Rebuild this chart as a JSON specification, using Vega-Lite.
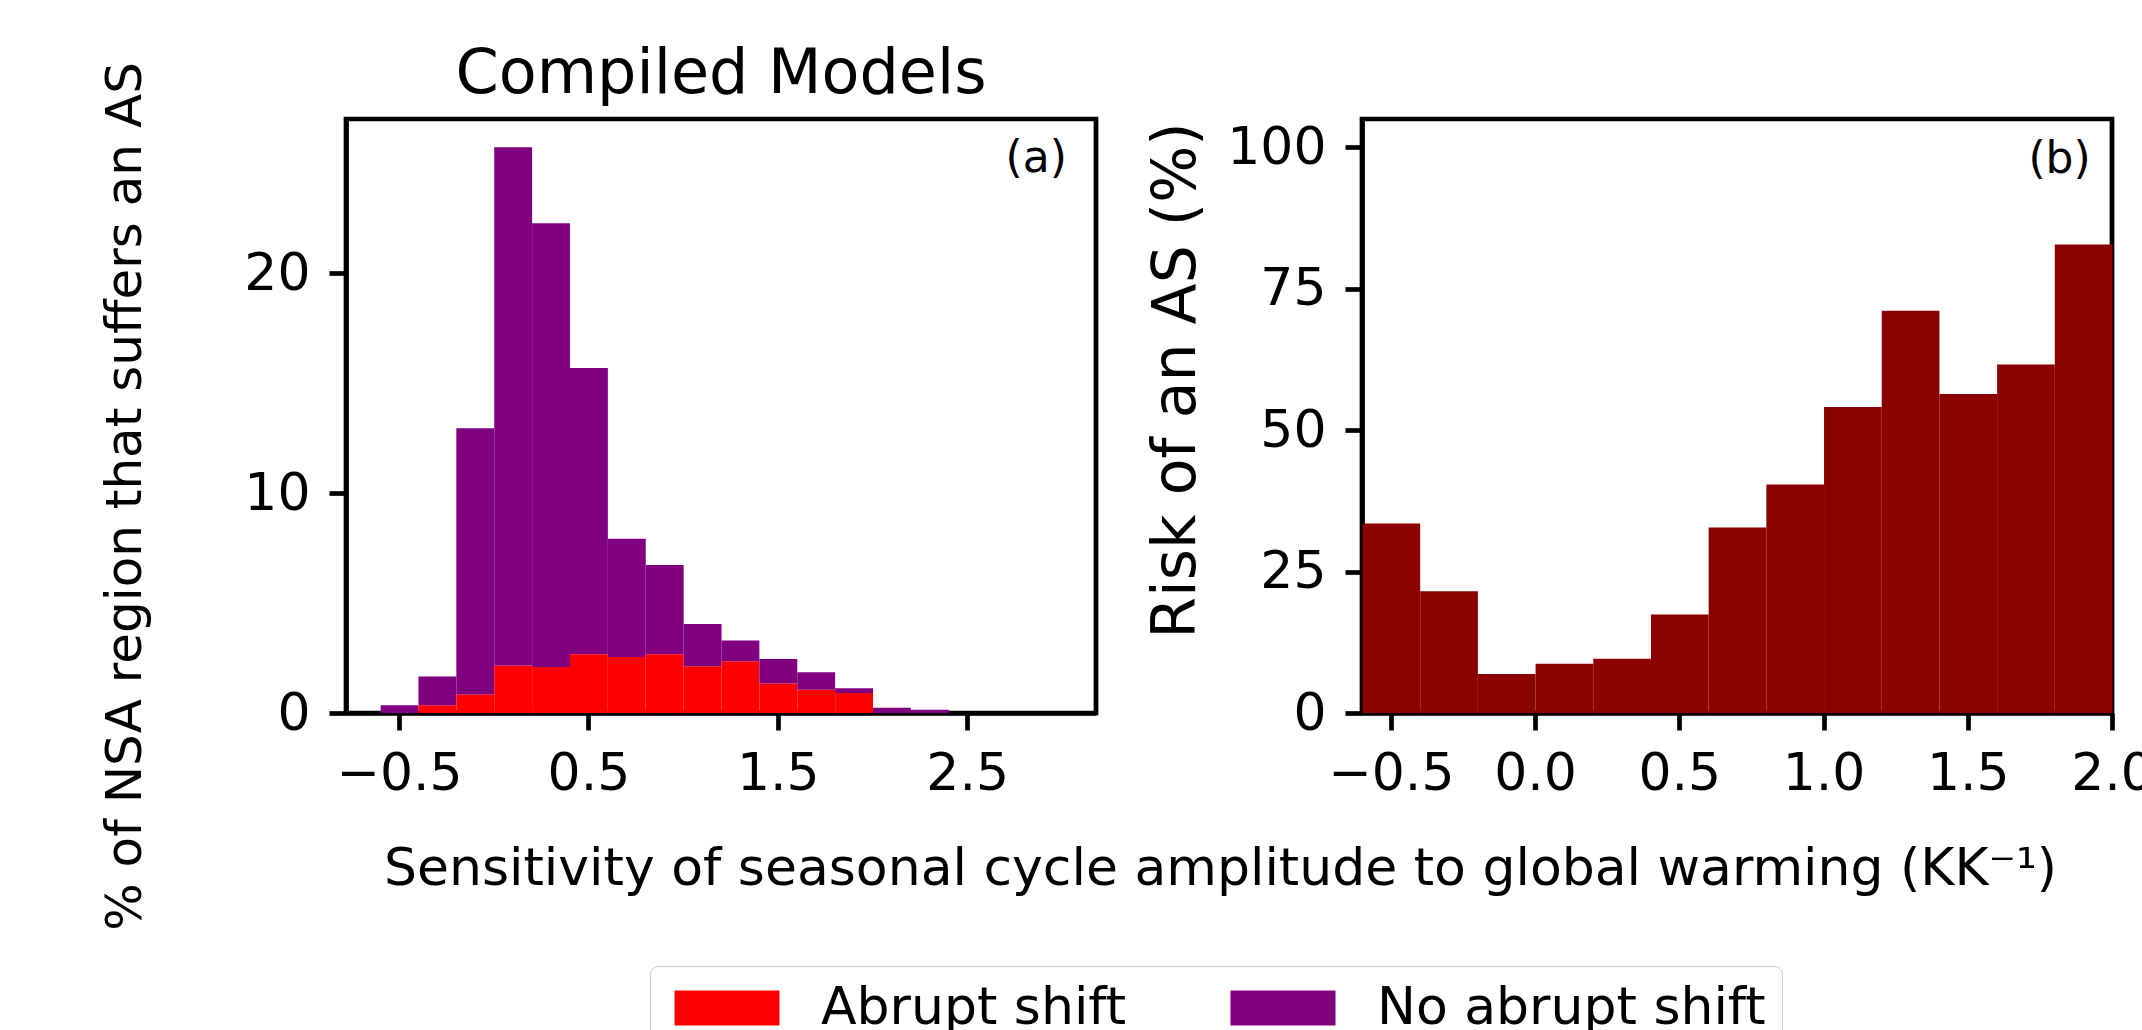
{
  "$schema": "https://vega.github.io/schema/vega-lite/v6.json",
  "background": "white",
  "padding": {"left": 97, "top": 40, "right": 0, "bottom": 0},
  "datasets": {
    "hist": [
      {"bin_start": -0.6, "bin_end": -0.4, "group": "No abrupt shift", "pct": 0.35},
      {"bin_start": -0.4, "bin_end": -0.2, "group": "Abrupt shift", "pct": 0.35},
      {"bin_start": -0.4, "bin_end": -0.2, "group": "No abrupt shift", "pct": 1.31},
      {"bin_start": -0.2, "bin_end": 0.0, "group": "Abrupt shift", "pct": 0.84},
      {"bin_start": -0.2, "bin_end": 0.0, "group": "No abrupt shift", "pct": 12.1},
      {"bin_start": 0.0, "bin_end": 0.2, "group": "Abrupt shift", "pct": 2.16},
      {"bin_start": 0.0, "bin_end": 0.2, "group": "No abrupt shift", "pct": 23.56},
      {"bin_start": 0.2, "bin_end": 0.4, "group": "Abrupt shift", "pct": 2.09},
      {"bin_start": 0.2, "bin_end": 0.4, "group": "No abrupt shift", "pct": 20.17},
      {"bin_start": 0.4, "bin_end": 0.6, "group": "Abrupt shift", "pct": 2.67},
      {"bin_start": 0.4, "bin_end": 0.6, "group": "No abrupt shift", "pct": 13.01},
      {"bin_start": 0.6, "bin_end": 0.8, "group": "Abrupt shift", "pct": 2.55},
      {"bin_start": 0.6, "bin_end": 0.8, "group": "No abrupt shift", "pct": 5.37},
      {"bin_start": 0.8, "bin_end": 1.0, "group": "Abrupt shift", "pct": 2.67},
      {"bin_start": 0.8, "bin_end": 1.0, "group": "No abrupt shift", "pct": 4.06},
      {"bin_start": 1.0, "bin_end": 1.2, "group": "Abrupt shift", "pct": 2.12},
      {"bin_start": 1.0, "bin_end": 1.2, "group": "No abrupt shift", "pct": 1.92},
      {"bin_start": 1.2, "bin_end": 1.4, "group": "Abrupt shift", "pct": 2.35},
      {"bin_start": 1.2, "bin_end": 1.4, "group": "No abrupt shift", "pct": 0.95},
      {"bin_start": 1.4, "bin_end": 1.6, "group": "Abrupt shift", "pct": 1.34},
      {"bin_start": 1.4, "bin_end": 1.6, "group": "No abrupt shift", "pct": 1.12},
      {"bin_start": 1.6, "bin_end": 1.8, "group": "Abrupt shift", "pct": 1.06},
      {"bin_start": 1.6, "bin_end": 1.8, "group": "No abrupt shift", "pct": 0.79},
      {"bin_start": 1.8, "bin_end": 2.0, "group": "Abrupt shift", "pct": 0.91},
      {"bin_start": 1.8, "bin_end": 2.0, "group": "No abrupt shift", "pct": 0.21},
      {"bin_start": 2.0, "bin_end": 2.2, "group": "No abrupt shift", "pct": 0.24},
      {"bin_start": 2.2, "bin_end": 2.4, "group": "No abrupt shift", "pct": 0.15}
    ],
    "risk": [
      {"bin_start": -0.6, "bin_end": -0.4, "risk": 33.5},
      {"bin_start": -0.4, "bin_end": -0.2, "risk": 21.5},
      {"bin_start": -0.2, "bin_end": 0.0, "risk": 6.9},
      {"bin_start": 0.0, "bin_end": 0.2, "risk": 8.7},
      {"bin_start": 0.2, "bin_end": 0.4, "risk": 9.6},
      {"bin_start": 0.4, "bin_end": 0.6, "risk": 17.4},
      {"bin_start": 0.6, "bin_end": 0.8, "risk": 32.8},
      {"bin_start": 0.8, "bin_end": 1.0, "risk": 40.4},
      {"bin_start": 1.0, "bin_end": 1.2, "risk": 54.1},
      {"bin_start": 1.2, "bin_end": 1.4, "risk": 71.1},
      {"bin_start": 1.4, "bin_end": 1.6, "risk": 56.4},
      {"bin_start": 1.6, "bin_end": 1.8, "risk": 61.6},
      {"bin_start": 1.8, "bin_end": 2.0, "risk": 82.8}
    ]
  },
  "spacing": 266,
  "bounds": "flush",
  "hconcat": [
    {
      "width": 750,
      "height": 594,
      "title": {
        "text": "Compiled Models",
        "fontSize": 62,
        "font": "DejaVu Sans",
        "fontWeight": "normal",
        "color": "black",
        "frame": "group",
        "anchor": "middle",
        "baseline": "alphabetic",
        "offset": -93
      },
      "layer": [
        {
          "data": {"name": "hist"},
          "mark": {"type": "bar", "binSpacing": 0},
          "encoding": {
            "x": {
              "field": "bin_start",
              "type": "quantitative",
              "bin": "binned",
              "scale": {"domain": [-0.78, 3.18], "nice": false, "zero": false},
              "axis": {
                "values": [-0.5, 0.5, 1.5, 2.5],
                "format": ".1f",
                "title": "Sensitivity of seasonal cycle amplitude to global warming (KK⁻¹)",
                "titleX": 874,
                "titleY": 171,
                "titleBaseline": "alphabetic",
                "titleAlign": "center"
              }
            },
            "x2": {"field": "bin_end"},
            "y": {
              "field": "pct",
              "type": "quantitative",
              "stack": "zero",
              "scale": {"domain": [0, 27], "nice": false},
              "axis": {
                "values": [0, 10, 20],
                "format": "d",
                "title": "% of NSA region that suffers an AS",
                "titleFontSize": 50,
                "titleX": -206,
                "titleY": 377,
                "titleAngle": -90,
                "titleBaseline": "alphabetic",
                "titleAlign": "center"
              }
            },
            "order": {"field": "group", "type": "nominal", "sort": "ascending"},
            "color": {
              "field": "group",
              "type": "nominal",
              "scale": {"domain": ["Abrupt shift", "No abrupt shift"], "range": ["#ff0000", "#800080"]},
              "legend": {
                "orient": "none",
                "legendX": 304,
                "legendY": 847,
                "direction": "horizontal",
                "title": null,
                "symbolType": "M-3,-1H3V1H-3Z",
                "symbolSize": 1225,
                "symbolStrokeWidth": 0,
                "symbolOpacity": 1,
                "symbolOffset": 35,
                "labelOffset": 68,
                "labelFontSize": 52,
                "labelFont": "DejaVu Sans",
                "labelColor": "black",
                "labelLimit": 0,
                "columnPadding": 95,
                "padding": 16,
                "strokeColor": "#cccccc",
                "cornerRadius": 8,
                "fillColor": "white"
              }
            }
          }
        },
        {
          "data": {"values": [{"label": "(a)"}]},
          "mark": {"type": "text", "align": "right", "baseline": "alphabetic", "fontSize": 44, "font": "DejaVu Sans", "color": "black"},
          "encoding": {
            "text": {"field": "label", "type": "nominal"},
            "x": {"datum": 3.026, "type": "quantitative"},
            "y": {"datum": 24.6, "type": "quantitative"}
          }
        }
      ]
    },
    {
      "width": 750,
      "height": 594,
      "layer": [
        {
          "data": {"name": "risk"},
          "mark": {"type": "bar", "color": "#8b0000", "binSpacing": 0},
          "encoding": {
            "x": {
              "field": "bin_start",
              "type": "quantitative",
              "bin": "binned",
              "scale": {"domain": [-0.6, 2.0], "nice": false, "zero": false},
              "axis": {"values": [-0.5, 0, 0.5, 1, 1.5, 2], "format": ".1f", "title": null}
            },
            "x2": {"field": "bin_end"},
            "y": {
              "field": "risk",
              "type": "quantitative",
              "scale": {"domain": [0, 105], "nice": false},
              "axis": {
                "values": [0, 25, 50, 75, 100],
                "format": "d",
                "title": "Risk of an AS (%)",
                "titleFontSize": 60,
                "titleX": -168,
                "titleY": 261,
                "titleAngle": -90,
                "titleBaseline": "alphabetic",
                "titleAlign": "center"
              }
            }
          }
        },
        {
          "data": {"values": [{"label": "(b)"}]},
          "mark": {"type": "text", "align": "right", "baseline": "alphabetic", "fontSize": 44, "font": "DejaVu Sans", "color": "black"},
          "encoding": {
            "text": {"field": "label", "type": "nominal"},
            "x": {"datum": 1.926, "type": "quantitative"},
            "y": {"datum": 95.5, "type": "quantitative"}
          }
        }
      ]
    }
  ],
  "config": {
    "font": "DejaVu Sans",
    "view": {"stroke": "black", "strokeWidth": 4.7},
    "axis": {
      "labelFont": "DejaVu Sans",
      "labelFontSize": 52,
      "labelColor": "black",
      "labelFlush": false,
      "labelOverlap": false,
      "labelBound": false,
      "titleFont": "DejaVu Sans",
      "titleFontSize": 52,
      "titleFontWeight": "normal",
      "titleColor": "black",
      "tickColor": "black",
      "tickWidth": 4.7,
      "tickSize": 17,
      "domain": true,
      "domainColor": "black",
      "domainWidth": 4.7,
      "grid": false,
      "zindex": 1
    },
    "axisX": {"labelPadding": 18},
    "axisY": {"labelPadding": 19}
  }
}
